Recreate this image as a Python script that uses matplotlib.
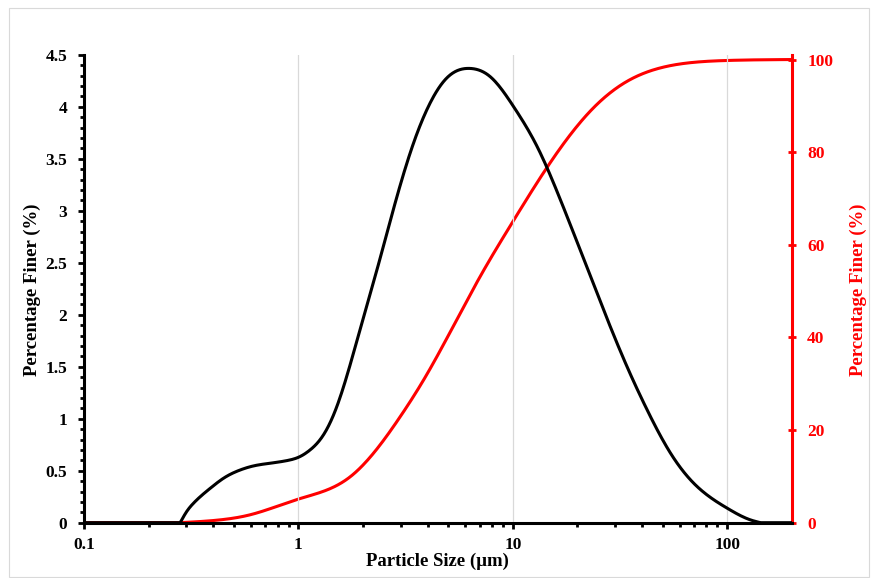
import matplotlib
matplotlib.use('Agg')
import matplotlib.pyplot as plt
from matplotlib.ticker import FixedLocator, MultipleLocator, NullFormatter, FixedFormatter
from matplotlib.patches import Rectangle
import numpy as np

# 粒径分布（频率，左轴）
size_freq = [0.1, 0.281, 0.301, 0.324, 0.388, 0.447, 0.535, 0.617, 0.738, 0.883,
             1.0, 1.134, 1.308, 1.51, 1.94, 2.406, 2.83, 3.44, 4.12,
             4.93, 6.29, 7.85, 10.1, 12.97, 16.67, 20.6, 26.5, 34.1, 42.3, 54.4,
             69.8, 100, 128.6, 143, 200]
freq = [0, 0, 0.106, 0.187, 0.331, 0.427, 0.507, 0.546, 0.572, 0.597,
        0.629, 0.70, 0.844, 1.116, 1.86, 2.545, 3.08, 3.65, 4.04,
        4.28, 4.37, 4.29, 4.00, 3.62, 3.106, 2.625, 2.047, 1.50, 1.085, 0.668,
        0.379, 0.139, 0.026, 0, 0]

# 累计通过率（右轴）
size_cum = [0.1, 0.281, 0.409, 0.595, 1.0, 1.743, 2.985, 3.834, 7.05, 10,
            13.22, 16.67, 23.8, 34.1, 48.8, 69.9, 100, 200]
cum = [0, 0, 0.5, 1.7, 5.1, 9.9, 22.9, 30.8, 53.2, 65,
       74, 80.9, 89.6, 95.3, 98.2, 99.4, 99.8, 100]

x_ticks = [0.1, 1, 10, 100]
x_ticklabels = ['0.1', '1', '10', '100']

plt.rcParams['font.family'] = ['Liberation Serif', 'DejaVu Serif']
plt.rcParams['font.weight'] = 'bold'
tick_fs = 12.5
label_fs = 13.5


def smooth(x, y, n=600):
    # 对数坐标下的自然三次样条，首尾的零段保持平直
    lx = np.log10(x)
    y = np.asarray(y, float)
    nz = np.nonzero(y)[0]
    i0, i1 = max(nz[0] - 1, 0), min(nz[-1] + 1, len(y) - 1)
    px, py = lx[i0:i1 + 1], y[i0:i1 + 1]
    k = len(px)
    h = np.diff(px)
    A = np.zeros((k, k))
    b = np.zeros(k)
    A[0, 0] = A[-1, -1] = 1
    for i in range(1, k - 1):
        A[i, i - 1] = h[i - 1]
        A[i, i] = 2 * (h[i - 1] + h[i])
        A[i, i + 1] = h[i]
        b[i] = 6 * ((py[i + 1] - py[i]) / h[i] - (py[i] - py[i - 1]) / h[i - 1])
    M = np.linalg.solve(A, b)
    xs = np.linspace(lx[0], lx[-1], n)
    ys = np.zeros_like(xs)
    inside = (xs >= px[0]) & (xs <= px[-1])
    xi = xs[inside]
    idx = np.clip(np.searchsorted(px, xi) - 1, 0, k - 2)
    t1 = px[idx + 1] - xi
    t0 = xi - px[idx]
    hh = h[idx]
    ys[inside] = (M[idx] * t1**3 / (6 * hh) + M[idx + 1] * t0**3 / (6 * hh)
                  + (py[idx] / hh - M[idx] * hh / 6) * t1
                  + (py[idx + 1] / hh - M[idx + 1] * hh / 6) * t0)
    ys[xs > px[-1]] = y[-1]
    return 10 ** xs, ys


fig = plt.figure(figsize=(8.73, 5.78), dpi=100)
ax = fig.add_axes([0.0962, 0.0957, 0.907 - 0.0962, 0.905 - 0.0957])

# 外框
fig.patches.append(Rectangle((9 / 873, 1 / 578), 860 / 873, 569 / 578, transform=fig.transFigure,
                             fill=False, edgecolor='#d9d9d9', linewidth=0.8))

ax.set_xscale('log')
ax.set_xlim(0.1, 200)
ax.set_ylim(0, 4.5)

for xv in x_ticks[1:]:
    ax.axvline(xv, color='#d9d9d9', linewidth=0.9, zorder=0)

xf, yf = smooth(size_freq, freq)
ax.plot(xf, np.clip(yf, 0, None), color='black', linewidth=2.2, zorder=3)

ax.xaxis.set_major_locator(FixedLocator(x_ticks))
ax.xaxis.set_major_formatter(FixedFormatter(x_ticklabels))
ax.xaxis.set_minor_locator(FixedLocator([k * 10.0 ** e for e in range(-1, 3) for k in range(2, 10) if k * 10.0 ** e < 200]))
ax.xaxis.set_minor_formatter(NullFormatter())
ax.yaxis.set_major_locator(MultipleLocator(0.5))
ax.yaxis.set_minor_locator(MultipleLocator(0.1))
ax.yaxis.set_major_formatter(plt.FuncFormatter(lambda v, p: f'{v:g}'))

ax.tick_params(axis='both', which='both', direction='out', width=2, labelsize=tick_fs, colors='black')
ax.tick_params(axis='both', which='major', length=4)
ax.tick_params(axis='both', which='minor', length=3)
ax.tick_params(axis='x', pad=6)
ax.tick_params(axis='y', pad=8)

for s in ['top', 'right']:
    ax.spines[s].set_visible(False)
for s in ['left', 'bottom']:
    ax.spines[s].set_linewidth(2.2)

ax.set_xlabel('Particle Size (µm)', fontsize=label_fs, fontweight='bold', labelpad=0)

ax2 = ax.twinx()
ax2.set_ylim(0, 101)
xc, yc = smooth(size_cum, cum)
ax2.plot(xc, np.clip(yc, 0, 100), color='#ff0000', linewidth=2.2, zorder=2)
ax2.set_yticks([0, 20, 40, 60, 80, 100])
ax2.tick_params(axis='y', direction='inout', length=6, width=2, colors='#ff0000', labelsize=tick_fs, pad=8)
for s in ['top', 'left', 'bottom']:
    ax2.spines[s].set_visible(False)
ax2.spines['right'].set_color('#ff0000')
ax2.spines['right'].set_linewidth(2.2)

# 两侧纵轴标题
fig.text(32 / 873, 1 - 290 / 578, 'Percentage Finer (%)', rotation=90, ha='center', va='center',
         fontsize=label_fs, fontweight='bold', color='black')
fig.text(858 / 873, 1 - 290 / 578, 'Percentage Finer (%)', rotation=90, ha='center', va='center',
         fontsize=label_fs, fontweight='bold', color='#ff0000')

ax.set_zorder(ax2.get_zorder() + 1)
ax.patch.set_visible(False)

fig.savefig('out.png', dpi=100)
